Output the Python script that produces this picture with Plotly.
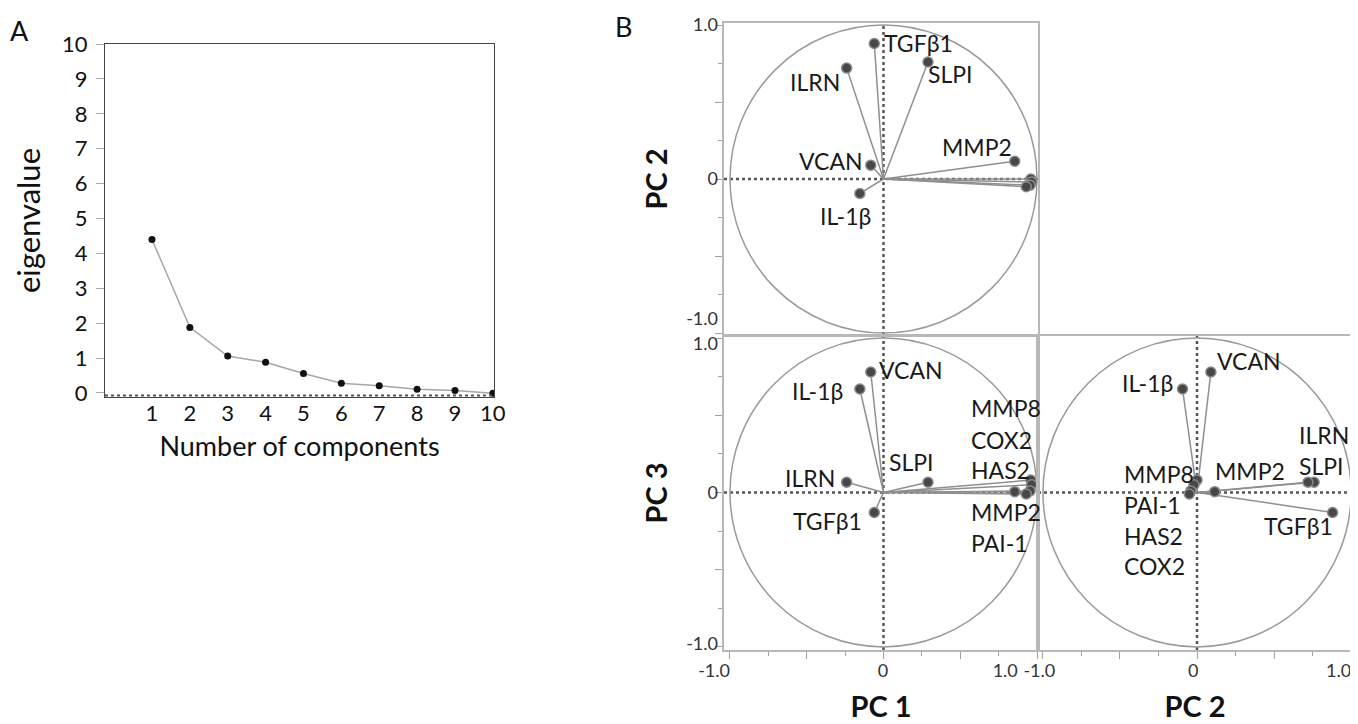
import plotly.graph_objects as go

# ---------------- data ----------------
components = list(range(1, 11))
eigenvalues = [4.40, 1.88, 1.06, 0.88, 0.56, 0.28, 0.21, 0.11, 0.07, -0.01]

genes = ["HAS2", "COX2", "MMP8", "PAI-1", "MMP2", "SLPI", "ILRN", "TGFβ1", "VCAN", "IL-1β"]
pc1 = [0.96, 0.965, 0.955, 0.93, 0.855, 0.29, -0.24, -0.06, -0.083, -0.154]
pc2 = [0.00, -0.02, -0.04, -0.05, 0.115, 0.76, 0.72, 0.88, 0.09, -0.094]
pc3 = [0.08, 0.05, 0.01, -0.01, 0.005, 0.066, 0.066, -0.13, 0.78, 0.67]

# label placements (x, y, anchor) for each loading plot
labels_pc1_pc2 = {
    "TGFβ1": (-0.01, 0.88, "left"), "ILRN": (-0.27, 0.63, "right"),
    "SLPI": (0.28, 0.68, "left"), "MMP2": (0.61, 0.21, "center"),
    "VCAN": (-0.12, 0.117, "right"), "IL-1β": (-0.25, -0.24, "center"),
    "HAS2": (1.03, 0.15, "left"), "COX2": (1.03, -0.078, "left"),
    "MMP8": (1.03, -0.29, "left"), "PAI-1": (1.04, -0.50, "left"),
}
labels_pc1_pc3 = {
    "VCAN": (-0.045, 0.79, "left"), "IL-1β": (-0.254, 0.656, "right"),
    "SLPI": (0.02, 0.20, "left"), "ILRN": (-0.306, 0.093, "right"),
    "TGFβ1": (-0.124, -0.186, "right"), "MMP8": (0.554, 0.546, "left"),
    "COX2": (0.554, 0.34, "left"), "HAS2": (0.554, 0.145, "left"),
    "MMP2": (0.554, -0.128, "left"), "PAI-1": (0.554, -0.33, "left"),
}
labels_pc2_pc3 = {
    "VCAN": (0.12, 0.853, "left"), "IL-1β": (-0.141, 0.708, "right"),
    "ILRN": (0.65, 0.37, "left"), "SLPI": (0.65, 0.17, "left"),
    "MMP2": (0.106, 0.138, "left"), "TGFβ1": (0.898, -0.218, "right"),
    "MMP8": (-0.485, 0.12, "left"), "PAI-1": (-0.485, -0.08, "left"),
    "HAS2": (-0.485, -0.283, "left"), "COX2": (-0.485, -0.478, "left"),
}

# the page body has an 8px margin, so the figure is slightly smaller than the window
OFF = 8
W, H = 1358 - OFF, 724 - OFF
FONT = "Lato, Carlito, Calibri, sans-serif"


def pxx(x):
    return (x - OFF) / W


def pyy(y):
    return 1 - (y - OFF) / H


fig = go.Figure()

# ---------------- panel A: scree plot ----------------
fig.add_trace(go.Scatter(
    x=components, y=eigenvalues, mode="lines+markers",
    line=dict(color="#a6a6a6", width=1.5),
    marker=dict(color="#111111", size=7),
    xaxis="x", yaxis="y", showlegend=False, hoverinfo="skip"))

# ---------------- panel B: loading plots ----------------
panels = [
    ("x2", "y2", pc1, pc2, labels_pc1_pc2),
    ("x3", "y3", pc1, pc3, labels_pc1_pc3),
    ("x4", "y4", pc2, pc3, labels_pc2_pc3),
]

shapes = []
annotations = []
for xa, ya, xs, ys, labs in panels:
    shapes.append(dict(type="circle", xref=xa, yref=ya, x0=-1, x1=1, y0=-1, y1=1,
                       line=dict(color="#9a9a9a", width=1.5), layer="below"))
    shapes.append(dict(type="line", xref=xa, yref=ya + " domain", x0=0, x1=0, y0=0, y1=1,
                       line=dict(color="#555555", width=2.5, dash="dot"), layer="below"))
    shapes.append(dict(type="line", xref=xa + " domain", yref=ya, x0=0, x1=1, y0=0, y1=0,
                       line=dict(color="#555555", width=2.5, dash="dot"), layer="below"))
    lx, ly = [], []
    for a, b in zip(xs, ys):
        lx += [0, a, None]
        ly += [0, b, None]
    fig.add_trace(go.Scatter(x=lx, y=ly, mode="lines",
                             line=dict(color="#8f8f8f", width=1.5),
                             xaxis=xa, yaxis=ya, showlegend=False, hoverinfo="skip"))
    fig.add_trace(go.Scatter(x=xs, y=ys, mode="markers",
                             marker=dict(color="#474747", size=10,
                                         line=dict(color="#8a8a8a", width=1.5)),
                             xaxis=xa, yaxis=ya, showlegend=False, hoverinfo="skip"))
    for g in genes:
        tx, ty, anc = labs[g]
        annotations.append(dict(x=tx, y=ty, xref=xa, yref=ya, text=g, showarrow=False,
                                xanchor=anc, yanchor="middle",
                                font=dict(family=FONT, size=23, color="#1a1a1a")))

# empty traces so the label-only overlay axes are rendered
for xa, ya in [("x2", "y5"), ("x3", "y6"), ("x5", "y3"), ("x6", "y4")]:
    fig.add_trace(go.Scatter(x=[], y=[], xaxis=xa, yaxis=ya, showlegend=False,
                             hoverinfo="skip"))

# panel letters
annotations.append(dict(x=pxx(8), y=pyy(30), xref="paper", yref="paper", text="A",
                        showarrow=False, xanchor="left", yanchor="middle",
                        font=dict(family=FONT, size=27, color="#111")))
annotations.append(dict(x=pxx(613), y=pyy(26), xref="paper", yref="paper", text="B",
                        showarrow=False, xanchor="left", yanchor="middle",
                        font=dict(family=FONT, size=27, color="#111")))

# dotted baseline in panel A
shapes.append(dict(type="line", xref="x domain", yref="y", x0=0, x1=1, y0=-0.07, y1=-0.07,
                   line=dict(color="#555555", width=2, dash="dot")))

frame = dict(showgrid=False, zeroline=False, showline=True, mirror=True,
             linecolor="#b8b8b8", linewidth=1.5, automargin=False)
tickfont_b = dict(family=FONT, size=18, color="#333333")
major = [-1, -0.5, 0, 0.5, 1]
minor_v = [-0.75, -0.25, 0.25, 0.75]
tick_common = dict(tickmode="array", tickvals=major, ticktext=[""] * 5,
                   ticks="outside", ticklen=7, tickcolor="#a0a0a0", tickwidth=1,
                   minor=dict(tickmode="array", tickvals=minor_v, ticks="outside",
                              ticklen=4, tickcolor="#a0a0a0", tickwidth=1))
no_ticks = dict(showticklabels=False, ticks="")

xr_left = [-1.039, 1.0065]
xr_right = [-1.032, 1.006]
yr_top = [-1.013, 1.013]
yr_bot = [-1.02, 1.013]

dom_x_left = [pxx(724), pxx(1038)]
dom_x_right = [pxx(1038), pxx(1352)]
dom_y_top = [pyy(335), pyy(23)]
dom_y_bot = [pyy(650), pyy(336)]

label_axis = dict(showgrid=False, zeroline=False, showline=False, ticks="",
                  tickmode="array", tickfont=tickfont_b, automargin=False)
title_font = dict(family=FONT, size=29, color="#111111", weight="bold")

fig.update_layout(
    width=W, height=H,
    margin=dict(l=0, r=0, t=0, b=0, autoexpand=False),
    paper_bgcolor="white", plot_bgcolor="white",
    font=dict(family=FONT),
    showlegend=False,
    # panel A
    xaxis=dict(domain=[pxx(105), pxx(494)], range=[-0.24, 10.03], anchor="y",
               tickmode="array", tickvals=components, ticks="", automargin=False,
               ticklabelstandoff=-4,
               showgrid=False, zeroline=False, showline=True, mirror=True,
               linecolor="#444444", linewidth=1.2,
               tickfont=dict(family=FONT, size=22, color="#111"),
               title=dict(text="Number of components", standoff=12,
                          font=dict(family=FONT, size=27, color="#111"))),
    yaxis=dict(domain=[pyy(397), pyy(44)], range=[-0.115, 10.0], anchor="x",
               tickmode="array", tickvals=list(range(0, 11)), automargin=False,
               ticks="outside", ticklen=8, tickcolor="#aaaaaa", ticklabelstandoff=4,
               showgrid=False, zeroline=False, showline=True, mirror=True,
               linecolor="#444444", linewidth=1.2,
               tickfont=dict(family=FONT, size=22, color="#111"),
               title=dict(text="eigenvalue", standoff=12,
                          font=dict(family=FONT, size=31, color="#111"))),
    # top-left: PC1 vs PC2
    xaxis2=dict(domain=dom_x_left, range=xr_left, anchor="y2", **frame, **no_ticks),
    yaxis2=dict(domain=dom_y_top, range=yr_top, anchor="x2", **frame, **tick_common),
    # bottom-left: PC1 vs PC3
    xaxis3=dict(domain=dom_x_left, range=xr_left, anchor="y3", **frame, **tick_common),
    yaxis3=dict(domain=dom_y_bot, range=yr_bot, anchor="x3", **frame, **tick_common),
    # bottom-right: PC2 vs PC3
    xaxis4=dict(domain=dom_x_right, range=xr_right, anchor="y4", **frame, **tick_common),
    yaxis4=dict(domain=dom_y_bot, range=yr_bot, anchor="x4", **frame, **no_ticks),
    # label-only overlay axes
    yaxis5=dict(overlaying="y2", anchor="x2", side="left", range=yr_top,
                tickvals=[1.0, 0, -0.905], ticktext=["1.0", "0", "-1.0"],
                ticklabelstandoff=5,
                title=dict(text="PC 2", standoff=10, font=title_font), **label_axis),
    yaxis6=dict(overlaying="y3", anchor="x3", side="left", range=yr_bot,
                tickvals=[0.965, 0, -0.977], ticktext=["1.0", "0", "-1.0"],
                ticklabelstandoff=5,
                title=dict(text="PC 3", standoff=10, font=title_font), **label_axis),
    xaxis5=dict(overlaying="x3", anchor="y3", side="bottom", range=xr_left,
                tickvals=[-1.0, 0.03, 0.875], ticktext=["-1.0", "0", "1.0"],
                ticklabelposition="outside left", ticklabelstandoff=8,
                title=dict(text="PC 1", standoff=16, font=title_font), **label_axis),
    xaxis6=dict(overlaying="x4", anchor="y4", side="bottom", range=xr_right,
                tickvals=[-0.92, 0.01, 1.0], ticktext=["-1.0", "0", "1.0"],
                ticklabelposition="outside left", ticklabelstandoff=8,
                title=dict(text="PC 2", standoff=16, font=title_font), **label_axis),
    shapes=shapes,
    annotations=annotations,
)

fig.write_html("out.html")
